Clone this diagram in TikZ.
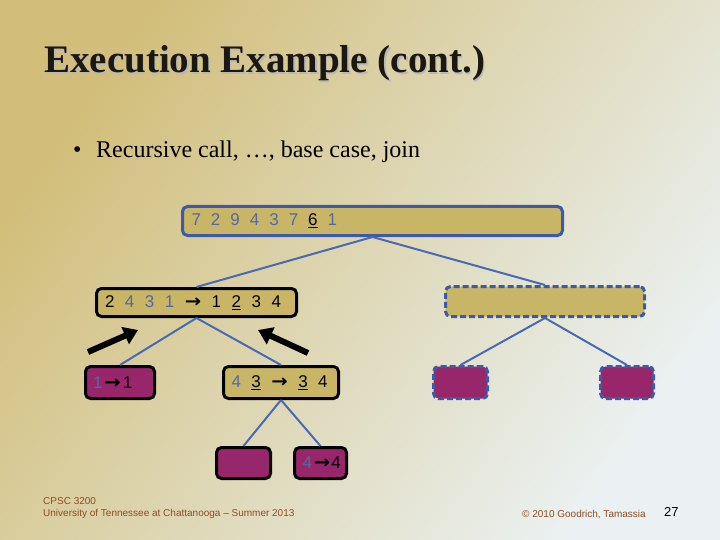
\documentclass[tikz,border=0pt]{standalone}
\usepackage{fontspec}
\usepackage{graphicx}
\setmainfont{Liberation Serif}
\setsansfont{Liberation Sans}
\newfontfamily\arrowfont{DejaVu Sans}
\usetikzlibrary{arrows.meta}
\definecolor{bgA}{HTML}{D2BE7A}
\definecolor{bgM}{HTML}{E6E0C2}
\definecolor{bgB}{HTML}{EBF1F2}
\definecolor{boxtan}{HTML}{C9B566}
\definecolor{boxpur}{HTML}{98266A}
\definecolor{bordblue}{HTML}{3D5AA8}
\definecolor{edgeblue}{HTML}{4A69B2}
\definecolor{txtblue}{HTML}{5468A6}
\definecolor{footbrown}{HTML}{8E4E22}
\definecolor{titleblk}{HTML}{1C1810}
\newcommand\gp{\hspace{10.5pt}}
\newcommand\bd[1]{\textcolor{txtblue}{#1}}
\newcommand\ar{\scalebox{1.15}[1.05]{\arrowfont\bfseries →}}
\tikzset{
  nb/.style={rounded corners=5pt, line width=3pt, inner ysep=0pt, inner xsep=0pt,
    font=\sffamily\fontsize{17}{17}\selectfont, align=left},
  tanb/.style={nb, fill=boxtan},
  purb/.style={nb, fill=boxpur},
  solidblue/.style={draw=bordblue},
  blk/.style={draw=black},
  dsh/.style={draw=bordblue, dash pattern=on 6pt off 3pt},
  edge/.style={draw=edgeblue, line width=2pt},
  bigarrow/.style={draw=black, line width=6pt, -{Triangle[length=14pt,width=18pt]}},
  foot/.style={anchor=base west, inner sep=0pt, text=footbrown, font=\sffamily\fontsize{10}{10}\selectfont},
}
\begin{document}
\begin{tikzpicture}[x=1pt,y=-1pt]
\useasboundingbox (0,0) rectangle (720,540);
\begin{scope}[yscale=-1]
\shade[left color=bgA, middle color=bgM, right color=bgB, shading angle=55] (0,0) rectangle (720,-540);
\end{scope}

% title and bullet
\node[anchor=base west, inner sep=0pt, font=\fontsize{39}{39}\selectfont\bfseries, text=black!28] (titlesh) at (45.2,74.2) {Execution Example (cont.)};
\node[anchor=base west, inner sep=0pt, font=\fontsize{39}{39}\selectfont\bfseries, text=titleblk] (title) at (44,73) {Execution Example (cont.)};
\node[anchor=base west, inner sep=0pt, font=\fontsize{24}{24}\selectfont, text=black] (bullet) at (73,158) {\makebox[23pt][l]{\textbullet}Recursive call, …, base case, join};

% tree nodes
\node[tanb, solidblue, minimum width=380, minimum height=29, inner xsep=9, text width=362] (root) at (372.5,221)
  {\mbox{\bd{7}\hspace{10pt}\bd{2}\hspace{10pt}\bd{9}\hspace{10pt}\bd{4}\hspace{10pt}\bd{3}\hspace{10pt}\bd{7}\hspace{10pt}\underline{6}\hspace{10pt}\bd{1}}};
\node[tanb, blk, minimum width=200, minimum height=28, inner xsep=8.5, text width=183] (l2l) at (196.5,302.5)
  {\mbox{2\gp\bd{4}\gp\bd{3}\gp\bd{1}\gp\ar\gp 1\gp\underline{2}\gp 3\gp 4}};
\node[tanb, dsh, minimum width=199, minimum height=30] (l2r) at (545,301.5) {};
\node[purb, blk, minimum width=69, minimum height=32, inner xsep=7.5, text width=54] (l3a) at (120,382.5)
  {\mbox{\bd{1}\hspace{2pt}\ar\hspace{2pt}1}};
\node[tanb, blk, minimum width=115, minimum height=32, inner xsep=8, text width=99] (l3b) at (281,382.5)
  {\mbox{\bd{4}\gp\underline{3}\gp\ar\gp\underline{3}\gp 4}};
\node[purb, dsh, minimum width=54, minimum height=32] (l3c) at (460.5,382.5) {};
\node[purb, dsh, minimum width=53, minimum height=32] (l3d) at (627,382.5) {};
\node[purb, blk, minimum width=54, minimum height=31] (l4a) at (243.5,463) {};
\node[purb, blk, minimum width=52, minimum height=31, inner xsep=8, text width=36] (l4b) at (320.5,463)
  {\mbox{\bd{4}\hspace{2pt}\ar\hspace{1pt}\makebox[6pt][l]{4}}};

% edges
\draw[edge] (root.south) -- (l2l.north);
\draw[edge] (root.south) -- (l2r.north);
\draw[edge] (l2l.south) -- (l3a.north);
\draw[edge] (l2l.south) -- (l3b.north);
\draw[edge] (l2r.south) -- (l3c.north);
\draw[edge] (l2r.south) -- (l3d.north);
\draw[edge] (l3b.south) -- (l4a.north);
\draw[edge] (l3b.south) -- (l4b.north);

% return arrows
\coordinate (ltail) at (88,352);
\coordinate (ltip) at (138,330);
\coordinate (rtail) at (308,353);
\coordinate (rtip) at (258,330);
\draw[bigarrow] (ltail) -- (ltip);
\draw[bigarrow] (rtail) -- (rtip);

% footer
\node[foot] (f1) at (43,504) {CPSC 3200};
\node[foot] (f2) at (43,516) {University of Tennessee at Chattanooga -- Summer 2013};
\node[foot] (f3) at (522,517) {© 2010 Goodrich, Tamassia};
\node[anchor=base west, inner sep=0pt, text=black, font=\sffamily\fontsize{13}{13}\selectfont] (pg) at (664,516) {27};
\end{tikzpicture}
\end{document}
